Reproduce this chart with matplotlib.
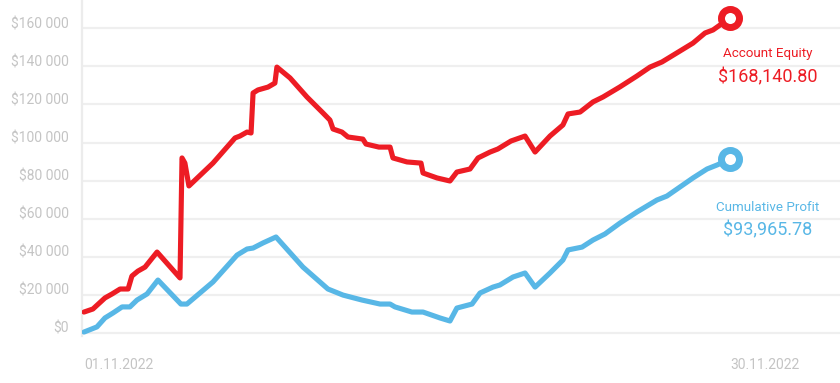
import matplotlib.pyplot as plt
from matplotlib.ticker import FuncFormatter

plt.rcParams["font.family"] = ["Roboto", "DejaVu Sans"]

# day of November 2022 (fractional) and dollar values
equity_days = [1.00, 1.40, 1.94, 2.26, 2.62, 2.98, 3.15, 3.42, 3.74, 4.28,
               5.31, 5.40, 5.53, 5.71, 6.79, 7.78, 8.00, 8.32, 8.50, 8.59,
               8.81, 9.26, 9.57, 9.66, 10.25, 11.01, 11.73, 12.04, 12.18, 12.58,
               12.85, 13.52, 13.66, 14.24, 14.74, 14.87, 15.50, 16.13, 16.22, 16.85,
               17.43, 17.74, 18.33, 18.69, 19.23, 19.58, 20.17, 20.80, 21.25, 21.92,
               22.50, 22.73, 23.27, 23.85, 24.30, 25.06, 25.82, 26.41, 26.95, 28.34,
               28.88, 29.24, 30.00]
equity = [11000, 12600, 18400, 20500, 23100, 23100, 29900, 32500, 34600, 42500,
          28900, 91900, 89200, 77200, 89200, 102400, 103400, 105500, 105000, 126000,
          127600, 129100, 131200, 139600, 133900, 123900, 115500, 111800, 107100, 105500,
          102900, 101800, 99200, 97600, 97600, 91900, 89800, 89200, 84000, 81400,
          79800, 84500, 86100, 91900, 95000, 96600, 100800, 103400, 95000, 103400,
          109200, 115000, 116000, 121300, 123900, 129200, 134900, 139600, 142300, 152200,
          157500, 159100, 165400]

profit_days = [1.00, 1.58, 1.94, 2.30, 2.71, 3.06, 3.38, 3.83, 4.32, 5.35,
               5.62, 6.79, 7.87, 8.32, 8.59, 9.04, 9.62, 10.83, 11.95, 12.63,
               13.48, 14.29, 14.74, 14.96, 15.72, 16.22, 16.98, 17.43, 17.74, 18.42,
               18.78, 19.36, 19.67, 20.26, 20.80, 21.25, 21.92, 22.50, 22.73, 23.36,
               23.85, 24.39, 25.06, 25.82, 26.72, 27.17, 28.34, 28.97, 29.42, 30.00]
profit = [500, 3200, 7900, 10500, 13700, 13700, 17300, 20500, 27800, 15200,
          15200, 26800, 40900, 44100, 44600, 47300, 50400, 34600, 23100, 19900,
          17300, 15200, 15200, 13700, 11000, 11000, 7900, 6300, 13100, 15200,
          21000, 24100, 25200, 29400, 31500, 24100, 31500, 38300, 43600, 45100,
          48800, 52000, 57700, 63500, 69800, 71900, 81400, 86100, 88200, 91300]

date_ticks = [1, 30]
date_labels = ["01.11.2022", "30.11.2022"]
y_ticks = [0, 20000, 40000, 60000, 80000, 100000, 120000, 140000, 160000]

RED = "#ED1C24"
BLUE = "#58B7E6"
GREY = "#c4c4c4"

fig = plt.figure(figsize=(8.4, 3.83), dpi=100)
ax = fig.add_axes([82 / 840, 1 - 336 / 383, 1 - 82 / 840, 336 / 383])

ax.plot(equity_days, equity, color=RED, lw=3.7, solid_joinstyle="round",
        solid_capstyle="round", zorder=3)
ax.plot(profit_days, profit, color=BLUE, lw=3.7, solid_joinstyle="round",
        solid_capstyle="round", zorder=3)
ax.plot(equity_days[-1], equity[-1], "o", ms=13, mfc="white", mec=RED, mew=5, zorder=4)
ax.plot(profit_days[-1], profit[-1], "o", ms=13, mfc="white", mec=BLUE, mew=5, zorder=4)

ax.text(31.7, 147000, "Account Equity", color=RED, fontsize=9.6, ha="center", va="center")
ax.text(31.7, 134400, "$168,140.80", color=RED, fontsize=13, ha="center", va="center")
ax.text(31.7, 66150, "Cumulative Profit", color=BLUE, fontsize=9.6, ha="center", va="center")
ax.text(31.7, 54075, "$93,965.78", color=BLUE, fontsize=13, ha="center", va="center")

ax.set_xlim(0.91, 34.94)
ax.set_ylim(-1575, 174825)

ax.set_yticks(y_ticks)
ax.yaxis.set_major_formatter(FuncFormatter(lambda v, p: "$" + f"{int(v):,}".replace(",", " ")))
for lab in ax.get_yticklabels():
    lab.set_verticalalignment("baseline")
ax.set_xticks(date_ticks)
ax.set_xticklabels(date_labels, ha="left")

ax.tick_params(axis="y", length=0, pad=9.5, labelsize=10, labelcolor=GREY)
ax.tick_params(axis="x", length=0, pad=16, labelsize=10, labelcolor=GREY)

ax.grid(axis="y", color="#efefef", lw=1.6)
ax.set_axisbelow(True)
for side in ["top", "right", "bottom"]:
    ax.spines[side].set_visible(False)
ax.spines["left"].set_color("#ececec")
ax.spines["left"].set_linewidth(1.6)

fig.savefig("out.png", dpi=100)
